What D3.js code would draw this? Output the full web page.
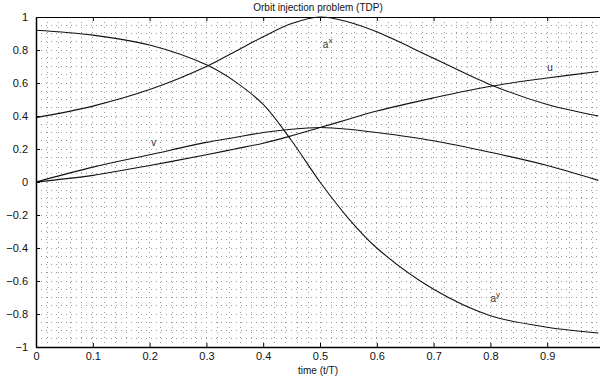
<!DOCTYPE html>
<html>
<head>
<meta charset="utf-8">
<style>
body{margin:0;background:#fff;font-family:"Liberation Sans",Arial,sans-serif;}
.grid line{stroke:#9a9a9a;stroke-width:1;stroke-dasharray:1,4;shape-rendering:crispEdges;}
.curve{fill:none;stroke:#111;stroke-width:1.1;}
.tick text{font-size:11px;fill:#111;}
.lbl{font-size:10px;fill:#333;}
</style>
</head>
<body>
<svg id="chart"></svg>
<script src="https://cdn.jsdelivr.net/npm/d3@7"></script>
<script>

// values
var tVals = [0, 0.1, 0.2, 0.3, 0.35, 0.4, 0.45, 0.5, 0.55, 0.6, 0.7, 0.8, 0.9, 0.99];
var ax    = [0.39, 0.46, 0.56, 0.70, 0.79, 0.88, 0.96, 1.0, 0.97, 0.91, 0.75, 0.59, 0.47, 0.40];
var ay    = [0.92, 0.89, 0.83, 0.71, 0.61, 0.47, 0.25, 0.0, -0.22, -0.40, -0.65, -0.81, -0.88, -0.915];
var uVals = [0, 0.04, 0.10, 0.165, 0.20, 0.235, 0.28, 0.33, 0.38, 0.43, 0.51, 0.58, 0.63, 0.67];
var vVals = [0, 0.09, 0.165, 0.24, 0.27, 0.30, 0.32, 0.33, 0.32, 0.30, 0.25, 0.18, 0.10, 0.01];

var xTicks = [0, 0.1, 0.2, 0.3, 0.4, 0.5, 0.6, 0.7, 0.8, 0.9];
var yTicks = [-1, -0.8, -0.6, -0.4, -0.2, 0, 0.2, 0.4, 0.6, 0.8, 1];

// curve labels: [main, superscript, t, value]
var labels = [
  ["a", "x", 0.505, 0.81],
  ["u", "",  0.90, 0.67],
  ["v", "",  0.203, 0.22],
  ["a", "y", 0.80, -0.725]
];

var W = 600, H = 377;
var margin = {top: 17, left: 36, bottom: 30};

var svg = d3.select("#chart").attr("width", W).attr("height", H);

var x = d3.scaleLinear().domain([0, 1]).range([margin.left, 604]);
var y = d3.scaleLinear().domain([-1, 1]).range([H - margin.bottom, margin.top]);

// dotted grid
var gx = d3.range(1, 50).map(function(i){ return i * 0.02; });
var gy = d3.range(1, 40).map(function(i){ return -1 + i * 0.05; });
var grid = svg.append("g").attr("class", "grid");
grid.selectAll(".gv").data(gx).enter().append("line")
    .attr("x1", function(d){ return x(d); }).attr("x2", function(d){ return x(d); })
    .attr("y1", y(1)).attr("y2", y(-1));
grid.selectAll(".gh").data(gy).enter().append("line")
    .attr("y1", function(d){ return y(d); }).attr("y2", function(d){ return y(d); })
    .attr("x1", x(0)).attr("x2", W);

// axes
var xAxis = d3.axisBottom(x).tickValues(xTicks).tickSizeInner(-4).tickSizeOuter(0).tickPadding(5)
    .tickFormat(d3.format("~g"));
var gX = svg.append("g").attr("transform", "translate(0," + y(-1) + ")").call(xAxis);
gX.select(".domain").attr("stroke", "#000").attr("stroke-width", 1.5);

var xTop = d3.axisTop(x).tickValues(xTicks).tickSizeInner(-4).tickSizeOuter(0).tickFormat("");
svg.append("g").attr("transform", "translate(0," + y(1) + ")").call(xTop)
    .select(".domain").attr("stroke", "#000");

var yAxis = d3.axisLeft(y).tickValues(yTicks).tickSizeInner(-4).tickSizeOuter(0).tickPadding(8)
    .tickFormat(d3.format("~g"));
var gY = svg.append("g").attr("transform", "translate(" + x(0) + ",0)").call(yAxis);
gY.select(".domain").attr("stroke", "#000").attr("stroke-width", 1.5);

// curves
var line = d3.line()
    .x(function(d){ return x(d[0]); })
    .y(function(d){ return y(d[1]); })
    .curve(d3.curveCatmullRom.alpha(0.5));

[ax, ay, uVals, vVals].forEach(function(s){
  svg.append("path").attr("class", "curve")
     .attr("d", line(tVals.map(function(t, i){ return [t, s[i]]; })));
});

// labels
labels.forEach(function(l){
  var t = svg.append("text").attr("class", "lbl")
     .attr("x", x(l[2])).attr("y", y(l[3]));
  t.append("tspan").text(l[0]);
  if (l[1]) t.append("tspan").attr("dy", -5).attr("font-size", "8px").text(l[1]);
});

// title and x label
svg.append("text").attr("x", 318).attr("y", 11).attr("text-anchor", "middle")
   .attr("font-size", "10px").attr("fill", "#111").text("Orbit injection problem (TDP)");
svg.append("text").attr("x", 318).attr("y", 374).attr("text-anchor", "middle")
   .attr("font-size", "10px").attr("fill", "#111").text("time (t/T)");

</script>
</body>
</html>
